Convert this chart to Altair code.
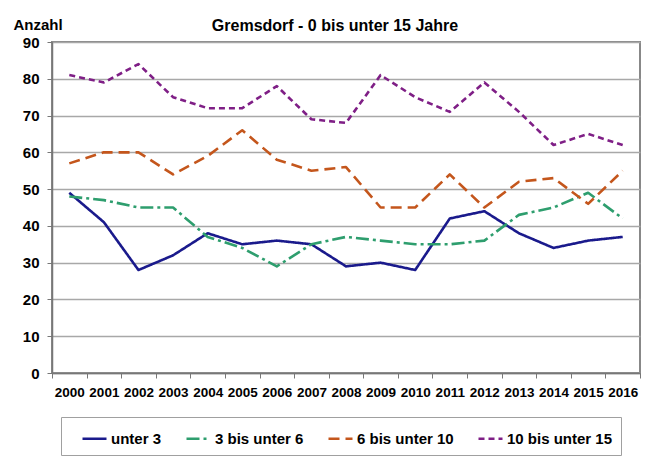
import altair as alt
import pandas as pd

years = [str(y) for y in range(2000, 2017)]
series = ["unter 3", "3 bis unter 6", "6 bis unter 10", "10 bis unter 15"]
unter3 = [49, 41, 28, 32, 38, 35, 36, 35, 29, 30, 28, 42, 44, 38, 34, 36, 37]
bis6 = [48, 47, 45, 45, 37, 34, 29, 35, 37, 36, 35, 35, 36, 43, 45, 49, 42]
bis10 = [57, 60, 60, 54, 59, 66, 58, 55, 56, 45, 45, 54, 45, 52, 53, 46, 55]
bis15 = [81, 79, 84, 75, 72, 72, 78, 69, 68, 81, 75, 71, 79, 71, 62, 65, 62]
y_ticks = list(range(0, 91, 10))

colors = ["#1A1A8C", "#2E9E6E", "#C4561C", "#7F1F86"]
dashes = [[1, 0], [13, 4, 3, 4], [11, 6], [6, 4]]

rows = []
for name, vals in zip(series, [unter3, bis6, bis10, bis15]):
    for y, v in zip(years, vals):
        rows.append({"Jahr": y, "Gruppe": name, "Anzahl": v})
df = pd.DataFrame(rows)

FONT = "Liberation Sans"

def legend():
    return alt.Legend(title=" ", titleOrient="left", titlePadding=12,
                      orient="none", direction="horizontal",
                      legendX=9, legendY=375,
                      strokeColor="#A0A0A0", padding=8,
                      symbolType="stroke", symbolSize=576,
                      symbolStrokeWidth=2.6, labelFont=FONT,
                      labelFontSize=15, labelFontWeight="bold",
                      labelColor="#000", columnPadding=19,
                      labelOffset=3)

chart = alt.Chart(df).mark_line(strokeWidth=2.6, strokeCap="butt", strokeJoin="round").encode(
    x=alt.X("Jahr:O", sort=years,
            scale=alt.Scale(type="band", paddingInner=0, paddingOuter=0),
            axis=alt.Axis(title=None, labelAngle=0, tickBand="extent", grid=False,
                          labelFont=FONT, labelFontSize=13.5, labelFontWeight="bold",
                          labelColor="#000", labelPadding=7, tickSize=5,
                          tickColor="#777", domainColor="#777", domainWidth=1.5)),
    y=alt.Y("Anzahl:Q", scale=alt.Scale(domain=[0, 90], nice=False),
            axis=alt.Axis(values=y_ticks, title="Anzahl", titleAngle=0,
                          titleX=-39, titleY=-13, titleAlign="left",
                          titleBaseline="alphabetic", titleFont=FONT,
                          titleFontSize=15, titleFontWeight="bold", titleColor="#000",
                          labelFont=FONT, labelFontSize=15, labelFontWeight="bold",
                          labelColor="#000", labelPadding=8, tickSize=5,
                          tickColor="#777", domainColor="#777", domainWidth=1.5,
                          gridColor="#A8A8A8", gridWidth=1.5)),
    color=alt.Color("Gruppe:N", sort=series,
                    scale=alt.Scale(domain=series, range=colors),
                    legend=legend()),
    strokeDash=alt.StrokeDash("Gruppe:N", sort=series,
                              scale=alt.Scale(domain=series, range=dashes),
                              legend=legend()),
).properties(
    width=588, height=331,
    title=alt.TitleParams("Gremsdorf - 0 bis unter 15 Jahre", font=FONT, fontSize=16,
                          fontWeight="bold", color="#000", anchor="middle",
                          baseline="alphabetic", offset=0, dy=30, dx=-11),
    autosize=alt.AutoSizeParams(type="none"),
    padding={"left": 44, "top": 34, "right": 5, "bottom": 83},
).configure_view(stroke="#888", strokeWidth=2)

chart.save("out.html", embed_options={"renderer": "svg", "actions": False})
